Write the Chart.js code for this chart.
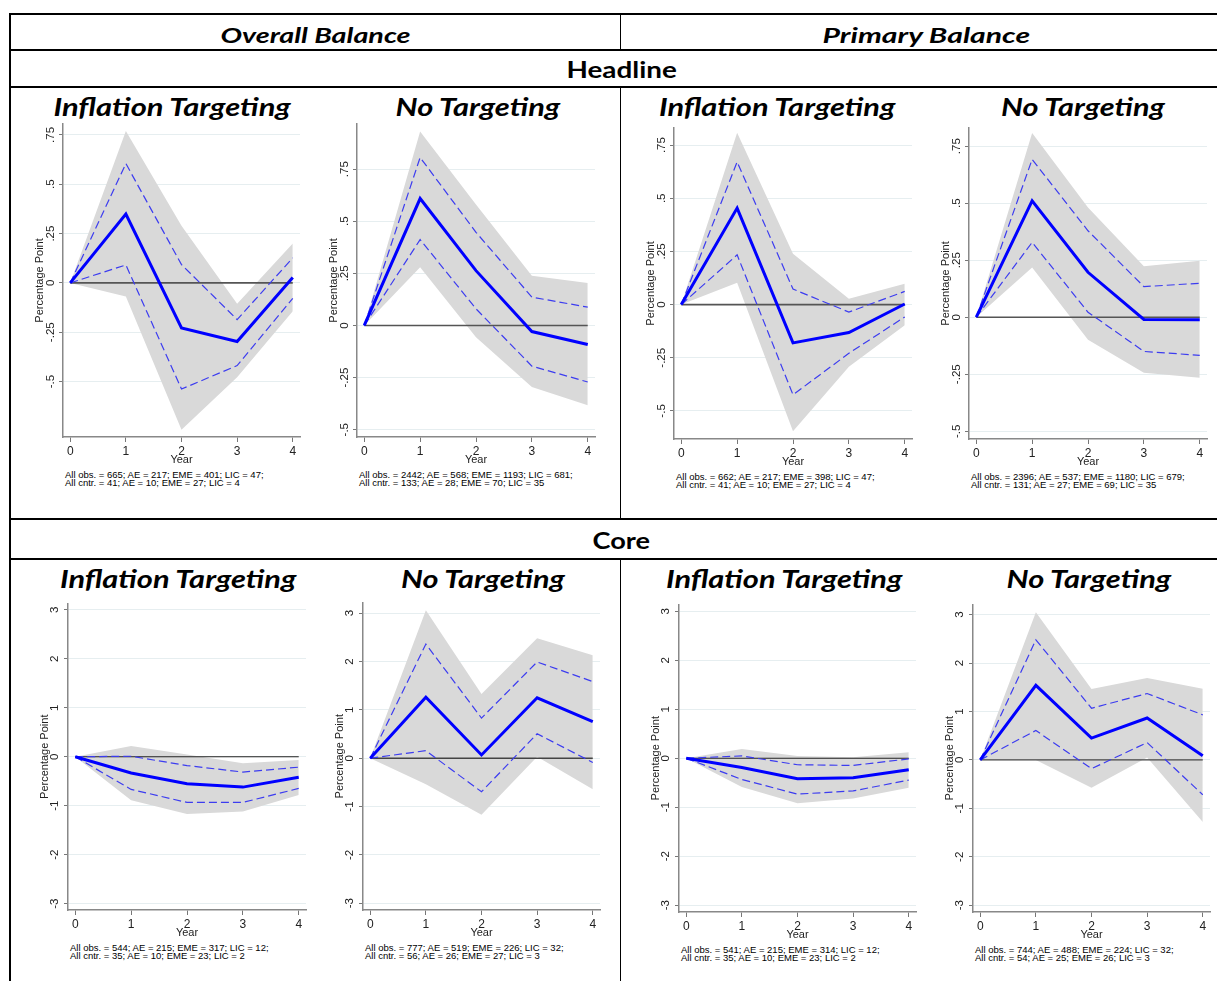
<!DOCTYPE html>
<html>
<head>
<meta charset="utf-8">
<title>Fiscal balance responses</title>
<script src="https://cdn.jsdelivr.net/npm/chart.js@4.4.1/dist/chart.umd.min.js"></script>
<style>
  html, body { margin: 0; padding: 0; background: #fff; }
  body { position: relative; width: 1217px; height: 981px; overflow: hidden; font-family: "Liberation Sans", Arial, sans-serif; }
  .rule { position: absolute; background: #000; }
  .head { position: absolute; white-space: nowrap; line-height: 1; font-family: Lato, "Open Sans", sans-serif; font-weight: 700; color: #000; transform-origin: 50% 50%; }
  .note { position: absolute; white-space: nowrap; font-size: 9.5px; line-height: 8.5px; color: #000; }
  canvas { position: absolute; }
</style>
</head>
<body>
<script>
// Years after the shock (x axis)
const years = [0, 1, 2, 3, 4];

// Y tick values and their Stata-style labels
const headlineTicks = [-0.5, -0.25, 0, 0.25, 0.5, 0.75];
const headlineTickLabels = ['-.5', '-.25', '0', '.25', '.5', '.75'];
const coreTicks = [-3, -2, -1, 0, 1, 2, 3];
const coreTickLabels = ['-3', '-2', '-1', '0', '1', '2', '3'];

// Overall balance, headline, inflation targeting
const obHeadItMean  = [0, 0.349, -0.228, -0.297, 0.028];
const obHeadItUpper = [0, 0.605, 0.093, -0.186, 0.127];
const obHeadItLower = [0, 0.091, -0.538, -0.419, -0.078];
const obHeadItBandHi = [0, 0.77, 0.29, -0.106, 0.20];
const obHeadItBandLo = [0, -0.069, -0.744, -0.478, -0.144];

// Overall balance, headline, no targeting
const obHeadNtMean  = [0, 0.609, 0.263, -0.029, -0.091];
const obHeadNtUpper = [0, 0.806, 0.447, 0.136, 0.088];
const obHeadNtLower = [0, 0.412, 0.080, -0.195, -0.271];
const obHeadNtBandHi = [0, 0.93, 0.58, 0.239, 0.204];
const obHeadNtBandLo = [0, 0.279, -0.056, -0.295, -0.383];

// Primary balance, headline, inflation targeting
const pbHeadItMean  = [0, 0.454, -0.180, -0.131, 0.003];
const pbHeadItUpper = [0, 0.671, 0.073, -0.035, 0.062];
const pbHeadItLower = [0, 0.234, -0.424, -0.229, -0.058];
const pbHeadItBandHi = [0, 0.808, 0.239, 0.028, 0.098];
const pbHeadItBandLo = [0, 0.103, -0.596, -0.292, -0.097];

// Primary balance, headline, no targeting
const pbHeadNtMean  = [0, 0.510, 0.197, -0.010, -0.011];
const pbHeadNtUpper = [0, 0.692, 0.379, 0.134, 0.149];
const pbHeadNtLower = [0, 0.328, 0.022, -0.150, -0.167];
const pbHeadNtBandHi = [0, 0.808, 0.481, 0.223, 0.248];
const pbHeadNtBandLo = [0, 0.218, -0.099, -0.243, -0.266];

// Overall balance, core, inflation targeting
const obCoreItMean  = [0, -0.333, -0.553, -0.62, -0.42];
const obCoreItUpper = [0, 0.01, -0.18, -0.313, -0.213];
const obCoreItLower = [0, -0.667, -0.933, -0.933, -0.647];
const obCoreItBandHi = [0, 0.22, 0.047, -0.133, -0.067];
const obCoreItBandLo = [0, -0.887, -1.167, -1.12, -0.78];

// Overall balance, core, no targeting
const obCoreNtMean  = [0, 1.26, 0.067, 1.25, 0.755];
const obCoreNtUpper = [0, 2.36, 0.83, 1.99, 1.585];
const obCoreNtLower = [0, 0.155, -0.695, 0.506, -0.088];
const obCoreNtBandHi = [0, 3.06, 1.33, 2.48, 2.13];
const obCoreNtBandLo = [0, -0.54, -1.17, 0.03, -0.64];

// Primary balance, core, inflation targeting
const pbCoreItMean  = [0, -0.187, -0.42, -0.40, -0.233];
const pbCoreItUpper = [0, 0.047, -0.133, -0.147, -0.013];
const pbCoreItLower = [0, -0.433, -0.733, -0.667, -0.447];
const pbCoreItBandHi = [0, 0.187, 0.047, 0.02, 0.12];
const pbCoreItBandLo = [0, -0.587, -0.92, -0.82, -0.60];

// Primary balance, core, no targeting
const pbCoreNtMean  = [0, 1.54, 0.45, 0.865, 0.088];
const pbCoreNtUpper = [0, 2.48, 1.067, 1.37, 0.93];
const pbCoreNtLower = [0, 0.607, -0.182, 0.358, -0.72];
const pbCoreNtBandHi = [0, 3.05, 1.465, 1.69, 1.47];
const pbCoreNtBandLo = [0, 0.0, -0.573, 0.047, -1.28];

// Sample notes under each panel
const obHeadItNotes = ['All obs. = 665; AE = 217; EME = 401; LIC = 47;', 'All cntr. = 41; AE = 10; EME = 27; LIC = 4'];
const obHeadNtNotes = ['All obs. = 2442; AE = 568; EME = 1193; LIC = 681;', 'All cntr. = 133; AE = 28; EME = 70; LIC = 35'];
const pbHeadItNotes = ['All obs. = 662; AE = 217; EME = 398; LIC = 47;', 'All cntr. = 41; AE = 10; EME = 27; LIC = 4'];
const pbHeadNtNotes = ['All obs. = 2396; AE = 537; EME = 1180; LIC = 679;', 'All cntr. = 131; AE = 27; EME = 69; LIC = 35'];
const obCoreItNotes = ['All obs. = 544; AE = 215; EME = 317; LIC = 12;', 'All cntr. = 35; AE = 10; EME = 23; LIC = 2'];
const obCoreNtNotes = ['All obs. = 777; AE = 519; EME = 226; LIC = 32;', 'All cntr. = 56; AE = 26; EME = 27; LIC = 3'];
const pbCoreItNotes = ['All obs. = 541; AE = 215; EME = 314; LIC = 12;', 'All cntr. = 35; AE = 10; EME = 23; LIC = 2'];
const pbCoreNtNotes = ['All obs. = 744; AE = 488; EME = 224; LIC = 32;', 'All cntr. = 54; AE = 25; EME = 26; LIC = 3'];

const zeroLine = years.map(() => 0);

// Layout: plot box [left, top, right, bottom] in page pixels, y range
const panels = [
  { mean: obHeadItMean, upper: obHeadItUpper, lower: obHeadItLower, hi: obHeadItBandHi, lo: obHeadItBandLo, notes: obHeadItNotes,
    ticks: headlineTicks, labels: headlineTickLabels, yMin: -0.781, yMax: 0.806, box: [63, 123, 300, 437], tickPad: -2, zero: '#555', zeroW: 1.6 },
  { mean: obHeadNtMean, upper: obHeadNtUpper, lower: obHeadNtLower, hi: obHeadNtBandHi, lo: obHeadNtBandLo, notes: obHeadNtNotes,
    ticks: headlineTicks, labels: headlineTickLabels, yMin: -0.535, yMax: 0.967, box: [357, 123, 595, 437], tickPad: -2, zero: '#555', zeroW: 1.6 },
  { mean: pbHeadItMean, upper: pbHeadItUpper, lower: pbHeadItLower, hi: pbHeadItBandHi, lo: pbHeadItBandLo, notes: pbHeadItNotes,
    ticks: headlineTicks, labels: headlineTickLabels, yMin: -0.632, yMax: 0.831, box: [674, 127, 912, 439], tickPad: -2, zero: '#555', zeroW: 1.6 },
  { mean: pbHeadNtMean, upper: pbHeadNtUpper, lower: pbHeadNtLower, hi: pbHeadNtBandHi, lo: pbHeadNtBandLo, notes: pbHeadNtNotes,
    ticks: headlineTicks, labels: headlineTickLabels, yMin: -0.534, yMax: 0.830, box: [969, 127, 1207, 439], tickPad: -2, zero: '#555', zeroW: 1.6 },
  { mean: obCoreItMean, upper: obCoreItUpper, lower: obCoreItLower, hi: obCoreItBandHi, lo: obCoreItBandLo, notes: obCoreItNotes,
    ticks: coreTicks, labels: coreTickLabels, yMin: -3.13, yMax: 3.13, box: [68, 597, 306, 910], tickPad: 3.6, zero: '#222', zeroW: 1.2 },
  { mean: obCoreNtMean, upper: obCoreNtUpper, lower: obCoreNtLower, hi: obCoreNtBandHi, lo: obCoreNtBandLo, notes: obCoreNtNotes,
    ticks: coreTicks, labels: coreTickLabels, yMin: -3.14, yMax: 3.22, box: [363, 596, 600, 910], tickPad: 3.6, zero: '#444', zeroW: 1.4 },
  { mean: pbCoreItMean, upper: pbCoreItUpper, lower: pbCoreItLower, hi: pbCoreItBandHi, lo: pbCoreItBandLo, notes: pbCoreItNotes,
    ticks: coreTicks, labels: coreTickLabels, yMin: -3.14, yMax: 3.14, box: [679, 598, 916, 912], tickPad: 3.6, zero: '#222', zeroW: 1.2 },
  { mean: pbCoreNtMean, upper: pbCoreNtUpper, lower: pbCoreNtLower, hi: pbCoreNtBandHi, lo: pbCoreNtBandLo, notes: pbCoreNtNotes,
    ticks: coreTicks, labels: coreTickLabels, yMin: -3.14, yMax: 3.208, box: [973, 598, 1210, 912], tickPad: 3.6, zero: '#444', zeroW: 1.4 }
];

const headers = [
  { text: 'Overall Balance', cx: 315, cy: 35, w: 190, size: 21, italic: true },
  { text: 'Primary Balance', cx: 926, cy: 35, w: 208, size: 21, italic: true },
  { text: 'Headline', cx: 621, cy: 71, w: 110, size: 22, italic: false },
  { text: 'Core', cx: 621, cy: 542, w: 58, size: 22, italic: false },
  { text: 'Inflation Targeting', cx: 171.5, cy: 107, w: 237, size: 25, italic: true },
  { text: 'No Targeting', cx: 477.5, cy: 107, w: 165, size: 25, italic: true },
  { text: 'Inflation Targeting', cx: 777, cy: 107, w: 236, size: 25, italic: true },
  { text: 'No Targeting', cx: 1083, cy: 107, w: 164, size: 25, italic: true },
  { text: 'Inflation Targeting', cx: 178, cy: 579, w: 236, size: 25, italic: true },
  { text: 'No Targeting', cx: 483, cy: 579, w: 164, size: 25, italic: true },
  { text: 'Inflation Targeting', cx: 784, cy: 579, w: 236, size: 25, italic: true },
  { text: 'No Targeting', cx: 1088.5, cy: 579, w: 165, size: 25, italic: true }
];

// table rules: [left, top, width, height]
const rules = [
  [9, 13, 1208, 2], [9, 49, 1208, 2], [9, 86, 1208, 2], [9, 518, 1208, 2], [9, 558, 1208, 2],
  [9, 13, 1.5, 968],
  [620, 14, 1, 36], [620, 87, 1, 432], [620, 559, 1, 422]
];

rules.forEach(([l, t, w, h]) => {
  const d = document.createElement('div');
  d.className = 'rule';
  Object.assign(d.style, { left: l + 'px', top: t + 'px', width: w + 'px', height: h + 'px' });
  document.body.appendChild(d);
});

headers.forEach(hd => {
  const el = document.createElement('div');
  el.className = 'head';
  el.textContent = hd.text;
  el.style.fontSize = hd.size + 'px';
  el.style.fontStyle = hd.italic ? 'italic' : 'normal';
  document.body.appendChild(el);
  const natural = el.offsetWidth;
  el.style.left = (hd.cx - natural / 2) + 'px';
  el.style.top = (hd.cy - 0.53 * hd.size) + 'px';
  el.style.transform = 'scaleX(' + (hd.w / natural) + ')';
});

Chart.defaults.font.family = '"Liberation Sans", Arial, sans-serif';
Chart.defaults.color = '#222';

const AXIS_W = 30, PAD_T = 4, PAD_R = 4, XAXIS_H = 30;

function pts(arr) {
  return years.map((x, i) => ({ x: x, y: arr[i] }));
}

function buildPanel(p) {
  const [l, t, r, b] = p.box;
  const w = r - l + AXIS_W + PAD_R;
  const h = b - t + PAD_T + XAXIS_H;
  const cv = document.createElement('canvas');
  cv.width = w; cv.height = h;
  cv.style.left = (l - AXIS_W) + 'px';
  cv.style.top = (t - PAD_T) + 'px';
  cv.style.width = w + 'px';
  cv.style.height = h + 'px';
  document.body.appendChild(cv);

  const note = document.createElement('div');
  note.className = 'note';
  note.innerHTML = p.notes.join('<br>');
  note.style.left = (l + 2) + 'px';
  note.style.top = (b + 33.75) + 'px';
  document.body.appendChild(note);

  new Chart(cv, {
    type: 'line',
    data: {
      datasets: [
        { data: pts(p.hi), fill: '+1', backgroundColor: '#d9d9d9', borderWidth: 0, borderColor: 'rgba(0,0,0,0)', order: 10 },
        { data: pts(p.lo), fill: false, borderWidth: 0, borderColor: 'rgba(0,0,0,0)', order: 10 },
        { data: pts(zeroLine), borderColor: p.zero, borderWidth: p.zeroW, order: 5 },
        { data: pts(p.upper), borderColor: '#3c3cf0', borderWidth: 1.2, borderDash: [8, 4], order: 2 },
        { data: pts(p.lower), borderColor: '#3c3cf0', borderWidth: 1.2, borderDash: [8, 4], order: 2 },
        { data: pts(p.mean), borderColor: '#0000ff', borderWidth: 3, order: 1 }
      ]
    },
    options: {
      responsive: false,
      animation: false,
      layout: { padding: { left: 0, top: PAD_T, right: PAD_R, bottom: 0 } },
      elements: { point: { radius: 0 }, line: { tension: 0 } },
      plugins: { legend: { display: false }, tooltip: { enabled: false } },
      scales: {
        x: {
          type: 'linear', min: -0.13, max: 4.13,
          afterBuildTicks: s => { s.ticks = years.map(v => ({ value: v })); },
          afterFit: s => { s.height = XAXIS_H; },
          grid: { drawOnChartArea: false, tickLength: 5, tickColor: '#777', lineWidth: 1 },
          border: { color: '#888', width: 1.5 },
          ticks: { font: { size: 12 }, color: '#222', padding: 2, maxRotation: 0, autoSkip: false, callback: v => String(v) },
          title: { display: true, text: 'Year', font: { size: 11 }, color: '#222', padding: 0 }
        },
        y: {
          min: p.yMin, max: p.yMax,
          afterBuildTicks: s => { s.ticks = p.ticks.map(v => ({ value: v })); },
          afterFit: s => { s.width = AXIS_W; },
          grid: { color: '#e6eef0', tickColor: '#777', tickLength: 4, lineWidth: 1 },
          border: { color: '#888', width: 1.5 },
          ticks: { minRotation: 90, maxRotation: 90, crossAlign: 'center', padding: p.tickPad, autoSkip: false,
                   font: { size: 11.5 }, color: '#222', callback: (v, i) => p.labels[i] },
          title: { display: true, text: 'Percentage Point', font: { size: 11 }, color: '#222', padding: 0 }
        }
      }
    }
  });
}

panels.forEach(buildPanel);
</script>
</body>
</html>
